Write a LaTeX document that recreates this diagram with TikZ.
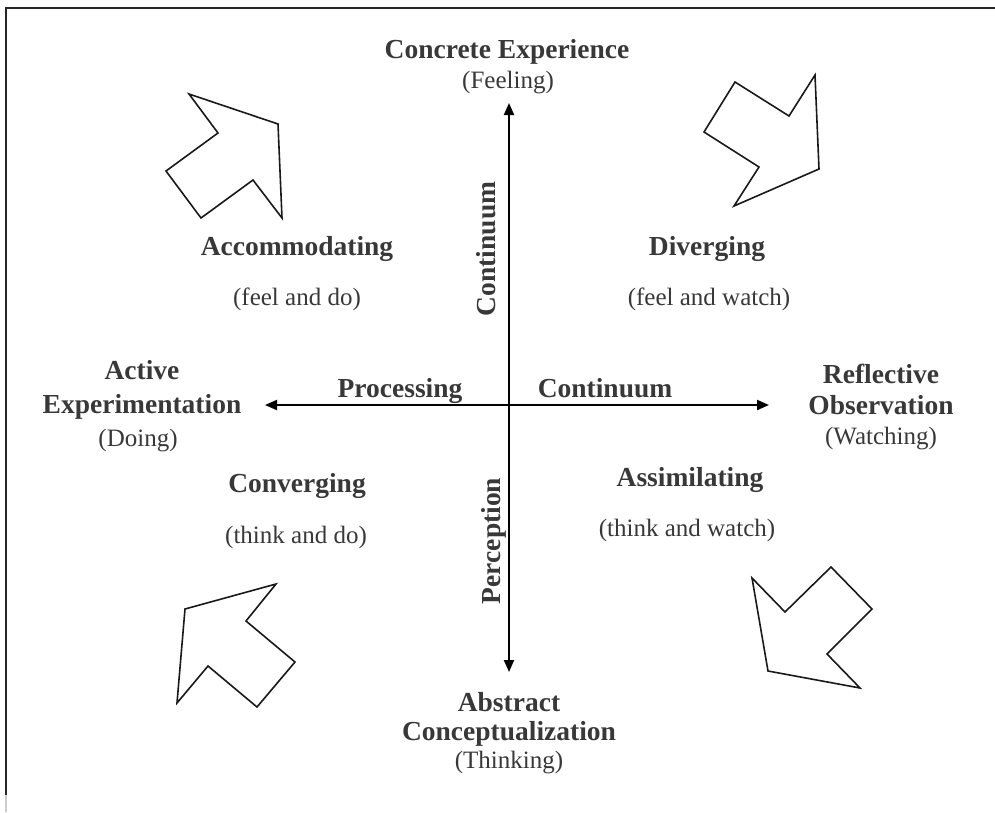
\documentclass[tikz,border=0pt]{standalone}
\usepackage{fontspec}
\setmainfont{Liberation Serif}
\usetikzlibrary{arrows.meta}
\definecolor{txt}{HTML}{383838}
\tikzset{
  hd/.style={font=\bfseries\fontsize{27.5}{33}\selectfont, text=txt, anchor=base, inner sep=0pt},
  sb/.style={font=\fontsize{25}{30}\selectfont, text=txt, anchor=base, inner sep=0pt},
  blk/.style={draw=black!90, line width=1.6pt, line join=miter},
  ax/.style={draw=black, line width=2pt, {Triangle[length=12pt,width=10pt]}-{Triangle[length=12pt,width=10pt]}},
  frame/.style={draw=black!85, line width=2pt},
}
\begin{document}
\begin{tikzpicture}[x=1pt,y=-1pt]
\useasboundingbox (0,0) rectangle (995,812);
% frame
\coordinate (f1) at (6,795);
\coordinate (f2) at (6,8);
\coordinate (f3) at (995,8);
\coordinate (f0) at (6,812);
\draw[frame] (f1) -- (f2) -- (f3);
\draw[draw=black!20, line width=2pt] (f0) -- (f1);
% axes
\coordinate (top) at (509,103);
\coordinate (bot) at (509,672);
\coordinate (lft) at (265,405);
\coordinate (rgt) at (769,405);
\draw[ax] (bot) -- (top);
\draw[ax] (lft) -- (rgt);
% big arrows
\draw[blk] (189,94) -- (278,124) -- (282,218) -- (253,180) -- (201,218) -- (166,171) -- (218,133) -- cycle;
\draw[blk] (815,75) -- (819,169) -- (734,206) -- (759,167) -- (704,132) -- (735,82) -- (789,116) -- cycle;
\draw[blk] (276,584) -- (246,621) -- (295,662) -- (257,707) -- (208,666) -- (177,703) -- (185,609) -- cycle;
\draw[blk] (752,578) -- (785,612) -- (831,567) -- (872,609) -- (827,654) -- (860,688) -- (768,671) -- cycle;
% labels
\node[hd] (ce) at (507,58) {Concrete Experience};
\node[sb] (cef) at (508,88) {(Feeling)};
\node[hd, rotate=90] (cont1) at (495,249) {Continuum};
\node[hd] (acc) at (297,255) {Accommodating};
\node[sb] (accs) at (297,305) {(feel and do)};
\node[hd] (div) at (707,255) {Diverging};
\node[sb] (divs) at (709,305) {(feel and watch)};
\node[hd] (ae1) at (142,379) {Active};
\node[hd] (ae2) at (142,413) {Experimentation};
\node[sb] (ae3) at (138,446) {(Doing)};
\node[hd] (proc) at (400,397) {Processing};
\node[hd] (cont2) at (605,397) {Continuum};
\node[hd] (ro1) at (881,383) {Reflective};
\node[hd] (ro2) at (881,414) {Observation};
\node[sb] (ro3) at (881,444) {(Watching)};
\node[hd] (conv) at (297,492) {Converging};
\node[sb] (convs) at (296,543) {(think and do)};
\node[hd] (ass) at (690,486) {Assimilating};
\node[sb] (asss) at (687,536) {(think and watch)};
\node[hd, rotate=90] (perc) at (500,541) {Perception};
\node[hd] (ac1) at (509,711) {Abstract};
\node[hd] (ac2) at (509,740) {Conceptualization};
\node[sb] (ac3) at (509,768) {(Thinking)};
\end{tikzpicture}
\end{document}
